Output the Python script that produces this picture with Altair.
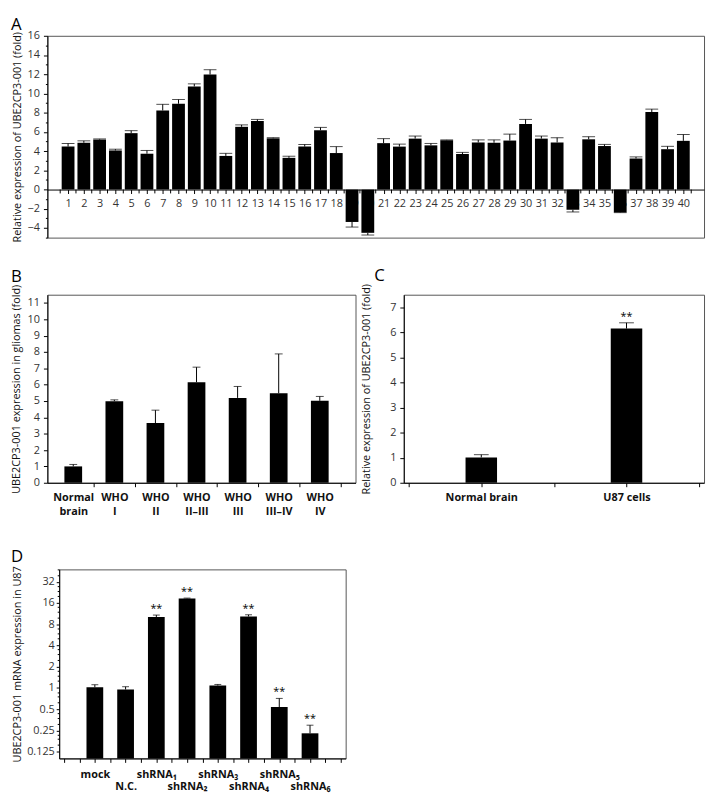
import json
import numpy as np
import pandas as pd
import altair as alt

FONT = "Open Sans"

# ---------------- Panel A data ----------------
A_sample = list(range(1, 41))
A_mean = [4.47, 4.87, 5.20, 4.07, 5.87, 3.73, 8.23, 8.93, 10.73, 11.97,
          3.50, 6.53, 7.13, 5.33, 3.30, 4.47, 6.17, 3.80, -3.37, -4.50,
          4.83, 4.47, 5.30, 4.60, 5.13, 3.70, 4.90, 4.87, 5.10, 6.83,
          5.30, 4.90, -2.10, 5.23, 4.53, -2.37, 3.23, 8.07, 4.20, 5.07]
A_sd = [0.33, 0.20, 0.07, 0.13, 0.26, 0.34, 0.64, 0.44, 0.27, 0.50,
        0.27, 0.20, 0.17, 0.07, 0.17, 0.23, 0.30, 0.67, 0.53, 0.23,
        0.47, 0.26, 0.27, 0.20, 0.04, 0.17, 0.27, 0.30, 0.67, 0.47,
        0.27, 0.50, 0.23, 0.27, 0.17, 0.03, 0.17, 0.30, 0.30, 0.66]
A_yticks = [-4, -2, 0, 2, 4, 6, 8, 10, 12, 14, 16]

# ---------------- Panel B data ----------------
B_groups = ["Normal brain", "WHO I", "WHO II", "WHO II\u2013III", "WHO III",
            "WHO III\u2013IV", "WHO IV"]
B_mean = [1.00, 4.99, 3.65, 6.15, 5.19, 5.48, 5.01]
B_sd = [0.12, 0.08, 0.79, 0.92, 0.70, 2.40, 0.27]
B_yticks = [0, 1, 2, 3, 4, 5, 6, 7, 8, 9, 10, 11]

# ---------------- Panel C data ----------------
C_groups = ["Normal brain", "U87 cells"]
C_mean = [1.01, 6.15]
C_sd = [0.11, 0.23]
C_sig = ["", "**"]
C_yticks = [0, 1, 2, 3, 4, 5, 6, 7]

# ---------------- Panel D data ----------------
D_groups = ["mock", "N.C.", "shRNA\u2081", "shRNA\u2082", "shRNA\u2083",
            "shRNA\u2084", "shRNA\u2085", "shRNA\u2086"]
D_mean = [1.02, 0.95, 10.1, 18.6, 1.08, 10.3, 0.535, 0.227]
D_sd = [0.09, 0.09, 0.70, 0.20, 0.04, 0.60, 0.175, 0.069]
D_sig = ["", "", "**", "**", "", "**", "**", "**"]
D_yticks = [0.125, 0.25, 0.5, 1, 2, 4, 8, 16, 32]
D_yminor = [0.15625, 0.1875, 0.21875, 0.3125, 0.375, 0.4375, 0.625, 0.75, 0.875,
            1.25, 1.5, 1.75, 2.5, 3, 3.5, 5, 6, 7, 10, 12, 14, 20, 24, 28, 40, 48]

# ---------------- layout sizes ----------------
A_W, A_H = 667, 205
B_W, C_W, BC_W_GAP, BC_H = 313, 305, 49, 191
D_W, D_H, D_SHIFT = 291, 192, 12
GAP_A_BC, GAP_BC_D = 58, 88
MANY = 500  # keep every listed tick (no sub-sampling)
A_TICK_LEN = 0.4  # length of the between-bar ticks of panel A, in axis units

LBL = dict(labelFont=FONT, labelFontSize=11, labelColor="#333")
TTL = dict(titleFont=FONT, titleFontSize=11, titleColor="#111", titleFontWeight="normal")
CAT = dict(labelFont=FONT, labelFontSize=11, labelColor="#111", labelFontWeight="bold")


def is_major(vals):
    return f"indexof({json.dumps(vals)}, datum.value) >= 0"


def tick_size(vals, big=4, small=2):
    return {"condition": {"test": is_major(vals), "value": big}, "value": small}


def panel_title(letter, dx, dy):
    return alt.TitleParams(letter, anchor="start", frame="group", fontSize=17,
                           fontWeight="normal", font=FONT, color="#000",
                           dx=dx, dy=dy, offset=0)


# ---------------- Panel A ----------------
dfA = pd.DataFrame({"sample": A_sample, "mean": A_mean, "sd": A_sd})
dfA["end"] = dfA["mean"] + np.sign(dfA["mean"]) * dfA["sd"]
# bar boundaries (between-bar ticks on the zero line)
dfA_bounds = pd.DataFrame({"sample": [s - 0.5 for s in A_sample] + [A_sample[-1] + 0.5]})

A_ymin, A_ymax = -5, 16
xA = alt.X("sample:Q", scale=alt.Scale(domain=[0, 41], nice=False, zero=False),
           axis=alt.Axis(values=A_sample, format="d", tickCount=MANY,
                         offset=-A_H * (0 - A_ymin) / (A_ymax - A_ymin),
                         title=None, tickSize=4, labelPadding=4, labelOverlap=False,
                         labelFlush=False, **LBL))
yA = alt.Y("mean:Q", scale=alt.Scale(domain=[A_ymin, A_ymax], nice=False, zero=False),
           axis=alt.Axis(values=list(range(A_ymin, A_ymax + 1)), format="d", tickCount=MANY,
                         labelExpr=f"{is_major(A_yticks)} ? datum.label : ''",
                         tickSize=tick_size(A_yticks),
                         title="Relative expression of UBE2CP3-001 (fold)",
                         titlePadding=5, labelPadding=4, labelOverlap=False,
                         labelFlush=False, **LBL, **TTL))
baseA = alt.Chart(dfA)
barsA = baseA.mark_bar(color="#000", size=13).encode(x=xA, y=yA, y2=alt.datum(0))
errA = baseA.mark_rule(color="#000", strokeWidth=1).encode(
    x="sample:Q", y="mean:Q", y2="end:Q")
capA = baseA.mark_tick(color="#000", orient="horizontal", size=13, thickness=1).encode(
    x="sample:Q", y="end:Q")
halfTicksA = alt.Chart(dfA_bounds).mark_rule(color="#000", strokeWidth=1).encode(
    x="sample:Q", y=alt.datum(0), y2=alt.datum(-A_TICK_LEN))
panelA = alt.layer(barsA, errA, capA, halfTicksA).properties(
    width=A_W, height=A_H, title=panel_title("A", -37, 4))

# ---------------- Panel B ----------------
dfB = pd.DataFrame({"pos": list(range(len(B_groups))), "group": B_groups,
                    "mean": B_mean, "sd": B_sd})
dfB["end"] = dfB["mean"] + dfB["sd"]
B_lines = json.dumps([g.split(" ", 1) for g in B_groups], ensure_ascii=False)
B_pos = list(range(len(B_groups)))
xB = alt.X("pos:Q", scale=alt.Scale(domain=[-0.51, 6.75], nice=False, zero=False),
           axis=alt.Axis(values=[i / 2 for i in range(0, 14)], tickCount=MANY,
                         labelExpr=f"{is_major(B_pos)} ? {B_lines}[datum.value] : ''",
                         tickSize={"condition": {"test": is_major(B_pos), "value": 0}, "value": 4},
                         title=None, labelPadding=9, labelOverlap=False, labelFlush=False,
                         labelLineHeight=14, **CAT))
yB = alt.Y("mean:Q", scale=alt.Scale(domain=[0, 11.5], nice=False),
           axis=alt.Axis(values=[i / 2 for i in range(0, 24)], format="d", tickCount=MANY,
                         labelExpr=f"{is_major(B_yticks)} ? datum.label : ''",
                         tickSize=tick_size(B_yticks),
                         title="UBE2CP3-001 expression in gliomas (fold)",
                         titlePadding=6, labelPadding=4, labelOverlap=False,
                         labelFlush=False, **LBL, **TTL))
baseB = alt.Chart(dfB)
barsB = baseB.mark_bar(color="#000", size=18).encode(x=xB, y=yB)
errB = baseB.mark_rule(color="#000").encode(x="pos:Q", y="mean:Q", y2="end:Q")
capB = baseB.mark_tick(color="#000", orient="horizontal", size=8, thickness=1).encode(
    x="pos:Q", y="end:Q")
panelB = alt.layer(barsB, errB, capB).properties(
    width=B_W, height=BC_H, title=panel_title("B", -37, 2))

# ---------------- Panel C ----------------
dfC = pd.DataFrame({"pos": list(range(len(C_groups))), "group": C_groups,
                    "mean": C_mean, "sd": C_sd, "sig": C_sig})
dfC["end"] = dfC["mean"] + dfC["sd"]
C_names = json.dumps(C_groups, ensure_ascii=False)
C_pos = list(range(len(C_groups)))
xC = alt.X("pos:Q", scale=alt.Scale(domain=[-0.5, 1.5], nice=False, zero=False),
           axis=alt.Axis(values=[-0.5, 0, 0.5, 1, 1.5], tickCount=MANY,
                         labelExpr=f"{is_major(C_pos)} ? {C_names}[datum.value] : ''",
                         tickSize=4, title=None, labelPadding=5, labelOverlap=False,
                         labelFlush=False, **CAT))
yC = alt.Y("mean:Q", scale=alt.Scale(domain=[0, 7.5], nice=False),
           axis=alt.Axis(values=[i / 2 for i in range(0, 16)], format="d", tickCount=MANY,
                         labelExpr=f"{is_major(C_yticks)} ? datum.label : ''",
                         tickSize=tick_size(C_yticks),
                         title="Relative expression of UBE2CP3-001 (fold)",
                         titlePadding=18, labelPadding=4, labelOverlap=False,
                         labelFlush=False, **LBL, **TTL))
baseC = alt.Chart(dfC)
barsC = baseC.mark_bar(color="#000", size=32).encode(x=xC, y=yC)
errC = baseC.mark_rule(color="#000").encode(x="pos:Q", y="mean:Q", y2="end:Q")
capC = baseC.mark_tick(color="#000", orient="horizontal", size=15, thickness=1).encode(
    x="pos:Q", y="end:Q")
sigC = baseC.mark_text(baseline="bottom", dy=-1, fontSize=11, font=FONT, color="#000").encode(
    x="pos:Q", y="end:Q", text="sig:N")
panelC = alt.layer(barsC, errC, capC, sigC).properties(
    width=C_W, height=BC_H, title=panel_title("C", -30, 2))

# ---------------- Panel D ----------------
dfD = pd.DataFrame({"pos": list(range(1, len(D_groups) + 1)), "group": D_groups,
                    "mean": D_mean, "sd": D_sd, "sig": D_sig})
dfD["end"] = dfD["mean"] + dfD["sd"]
D_lines = json.dumps([[g] if i % 2 == 0 else ["", g] for i, g in enumerate(D_groups)],
                     ensure_ascii=False)
D_pos = list(range(1, len(D_groups) + 1))
xD = alt.X("pos:Q", scale=alt.Scale(domain=[0, 9], nice=False, zero=False),
           axis=alt.Axis(values=[i / 2 for i in range(0, 19)], tickCount=MANY,
                         labelExpr=f"{is_major(D_pos)} ? {D_lines}[datum.value - 1] : ''",
                         tickSize=4, title=None, labelPadding=6, labelOverlap=False,
                         labelFlush=False, labelLineHeight=13, **CAT))
yD = alt.Y("mean:Q", scale=alt.Scale(type="log", base=2, domain=[0.1, 48], nice=False),
           axis=alt.Axis(values=sorted(D_yticks + D_yminor), format="~g", tickCount=MANY,
                         labelExpr=f"{is_major(D_yticks)} ? datum.label : ''",
                         tickSize=tick_size(D_yticks, 3, 2),
                         title="UBE2CP3-001 mRNA expression in U87",
                         titlePadding=4, labelPadding=2, labelOverlap=False,
                         labelFlush=False, **LBL, **TTL))
baseD = alt.Chart(dfD)
barsD = baseD.mark_bar(color="#000", size=17).encode(x=xD, y=yD, y2=alt.datum(0.1))
errD = baseD.mark_rule(color="#000").encode(x="pos:Q", y="mean:Q", y2="end:Q")
capD = baseD.mark_tick(color="#000", orient="horizontal", size=7, thickness=1).encode(
    x="pos:Q", y="end:Q")
sigD = baseD.mark_text(baseline="bottom", dy=-1, fontSize=11, font=FONT, color="#000").encode(
    x="pos:Q", y="end:Q", text="sig:N")
panelD = alt.layer(barsD, errD, capD, sigD).properties(
    width=D_W, height=D_H, title=panel_title("D", -49, 2))

spacer = alt.Chart(pd.DataFrame({"v": [0]})).mark_point(opacity=0).encode(
    x=alt.X("v:Q", axis=None), y=alt.Y("v:Q", axis=None)
).properties(width=1, height=D_H, view=alt.ViewBackground(strokeOpacity=0))

row_bc = alt.hconcat(panelB, panelC, spacing=BC_W_GAP, bounds="flush")
row_d = alt.hconcat(spacer, panelD, spacing=D_SHIFT - 1, bounds="flush")
# a nested concat counts as zero height in a flush layout, so the gap includes the row height
lower = alt.vconcat(row_bc, row_d, spacing=BC_H + GAP_BC_D, bounds="flush")

chart = alt.vconcat(panelA, lower, spacing=GAP_A_BC, bounds="flush").properties(
    padding={"left": 1, "top": 1, "right": 1, "bottom": 1}
).configure_view(stroke="#555", strokeWidth=1).configure_axis(
    grid=False, domainColor="#000", tickColor="#000", domainWidth=1, tickWidth=1
)

chart.save("out.html", embed_options={"renderer": "svg", "actions": False})
